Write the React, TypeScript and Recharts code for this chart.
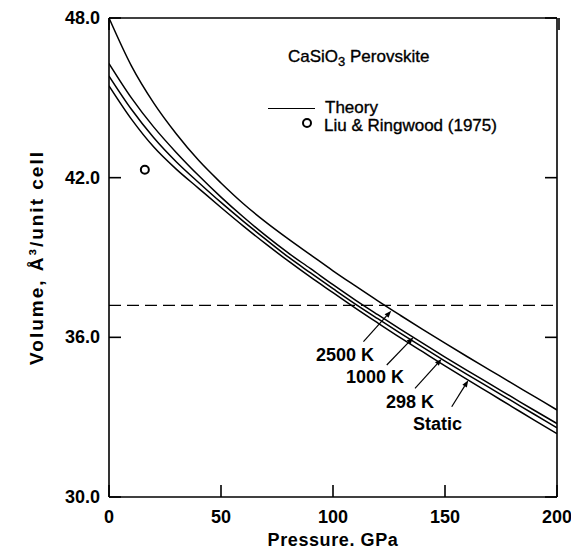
import React from 'react';
import {
  ComposedChart,
  Line,
  Scatter,
  XAxis,
  YAxis,
  ReferenceLine,
  ReferenceDot,
  Legend,
} from 'recharts';

const FONT = '"Liberation Sans", Arial, Helvetica, sans-serif';

// pressure grid, GPa
const pressure = [0, 10, 20, 30, 40, 50, 60, 70, 80, 90, 100, 110, 120, 130, 140, 150, 160, 170, 180, 190, 200];

// volumes, A^3 per unit cell
const vol2500 = [48.0, 46.2, 44.8, 43.65, 42.65, 41.8, 41.02, 40.33, 39.7, 39.1, 38.5, 37.93, 37.37, 36.83, 36.3, 35.78, 35.27, 34.77, 34.27, 33.77, 33.27];
const vol1000 = [46.29, 45.0, 43.9, 42.95, 42.08, 41.27, 40.52, 39.82, 39.17, 38.58, 37.98, 37.4, 36.85, 36.31, 35.78, 35.26, 34.75, 34.25, 33.75, 33.25, 32.76];
const vol298 = [45.82, 44.57, 43.5, 42.6, 41.82, 41.07, 40.36, 39.68, 39.02, 38.42, 37.83, 37.25, 36.7, 36.16, 35.63, 35.11, 34.6, 34.1, 33.6, 33.1, 32.6];
const volStatic = [45.45, 44.2, 43.15, 42.32, 41.6, 40.88, 40.18, 39.51, 38.87, 38.26, 37.68, 37.1, 36.54, 35.99, 35.46, 34.93, 34.41, 33.9, 33.39, 32.88, 32.38];

// Liu & Ringwood (1975) point
const liuRingwood = [{ p: 16, v: 42.3 }];

const xTicks = [0, 50, 100, 150, 200];
const yTicks = [30, 36, 42, 48];
const dashedVolume = 37.2;

// curve labels with pointer arrows (data coordinates)
const arrowNotes = [
  { label: '2500 K', textP: 105.4, textV: 35.34, fromP: 113.6, fromV: 35.84, tipP: 126, tipV: 37.0 },
  { label: '1000 K', textP: 118.75, textV: 34.52, fromP: 124, fromV: 34.96, tipP: 135.9, tipV: 36.0 },
  { label: '298 K', textP: 134.4, textV: 33.58, fromP: 136.6, fromV: 34.08, tipP: 148.5, tipV: 35.19 },
  { label: 'Static', textP: 146.7, textV: 32.77, fromP: 153, fromV: 33.39, tipP: 160.4, tipV: 34.39 },
];

const curveData = pressure.map((p, i) => ({
  p,
  t2500: vol2500[i],
  t1000: vol1000[i],
  t298: vol298[i],
  tStatic: volStatic[i],
}));

const TICK = 12;
const labelFont = { fill: '#000', fontSize: 18, fontWeight: 'bold' as const, fontFamily: FONT };
const axisStroke = { stroke: '#000', strokeWidth: 1.6 };

// inward tick marks, drawn by the tick renderers themselves
const BottomTick = (props: any) => {
  const { x, y, payload } = props;
  return (
    <g>
      <line x1={x} x2={x} y1={y} y2={y - TICK} stroke="#000" strokeWidth={1.6} />
      <text x={x} y={y + 26} textAnchor="middle" {...labelFont}>{payload.value}</text>
    </g>
  );
};

const LeftTick = (props: any) => {
  const { x, y, payload } = props;
  return (
    <g>
      <line x1={x} x2={x + TICK} y1={y} y2={y} stroke="#000" strokeWidth={1.6} />
      <text x={x - 9} y={y + 6} textAnchor="end" {...labelFont}>{Number(payload.value).toFixed(1)}</text>
    </g>
  );
};

const TopTick = (props: any) => (
  <line x1={props.x} x2={props.x} y1={props.y} y2={props.y + TICK} stroke="#000" strokeWidth={1.6} />
);

const RightTick = (props: any) => (
  <line x1={props.x} x2={props.x - TICK} y1={props.y} y2={props.y} stroke="#000" strokeWidth={1.6} />
);

const renderArrow = (props: any) => {
  const { x1, y1, x2, y2 } = props;
  const ang = Math.atan2(y2 - y1, x2 - x1);
  const len = 7;
  const half = 2.6;
  const bx = x2 - len * Math.cos(ang);
  const by = y2 - len * Math.sin(ang);
  const px = -Math.sin(ang) * half;
  const py = Math.cos(ang) * half;
  return (
    <g>
      <line x1={x1} y1={y1} x2={bx} y2={by} stroke="#000" strokeWidth={1.2} />
      <polygon points={`${x2},${y2} ${bx + px},${by + py} ${bx - px},${by - py}`} fill="#000" />
    </g>
  );
};

const renderOpenCircle = (props: any) => (
  <circle cx={props.cx} cy={props.cy} r={4} fill="#fff" stroke="#000" strokeWidth={2} />
);

const renderLegend = () => (
  <div
    style={{
      position: 'relative',
      width: 571,
      height: 140,
      fontFamily: FONT,
      fontSize: 17,
      lineHeight: '17px',
      color: '#000',
      whiteSpace: 'nowrap',
      WebkitTextStroke: '0.35px #000',
    }}
  >
    <div style={{ position: 'absolute', left: 288, top: 48 }}>
      CaSiO<span style={{ fontSize: 13, position: 'relative', top: 4 }}>3</span> Perovskite
    </div>
    <div style={{ position: 'absolute', left: 268, top: 108, width: 47, borderTop: '1.5px solid #000' }} />
    <div style={{ position: 'absolute', left: 325, top: 99 }}>Theory</div>
    <svg style={{ position: 'absolute', left: 301, top: 117 }} width={12} height={12}>
      <circle cx={6} cy={6} r={4} fill="none" stroke="#000" strokeWidth={2} />
    </svg>
    <div style={{ position: 'absolute', left: 324, top: 117 }}>Liu &amp; Ringwood (1975)</div>
  </div>
);

export default function App() {
  return (
    <div style={{ position: 'absolute', left: 0, top: 0, width: 571, height: 549, background: '#fff' }}>
      <ComposedChart
        width={571}
        height={549}
        data={curveData}
        margin={{ top: 17, right: 13, bottom: 0, left: 0 }}
      >
        <XAxis
          dataKey="p"
          type="number"
          domain={[0, 200]}
          ticks={xTicks}
          allowDataOverflow
          height={52}
          tickSize={0}
          tickMargin={0}
          tick={BottomTick}
          tickLine={false}
          axisLine={axisStroke}
          label={{
            value: 'Pressure. GPa',
            position: 'insideBottom',
            offset: 3,
            fill: '#000',
            fontSize: 18,
            fontWeight: 'bold',
            fontFamily: FONT,
            letterSpacing: 0.6,
          }}
        />
        <XAxis
          xAxisId="top"
          orientation="top"
          type="number"
          domain={[0, 200]}
          ticks={xTicks}
          allowDataOverflow
          height={1}
          tickSize={0}
          tickMargin={0}
          tick={TopTick}
          tickLine={false}
          axisLine={axisStroke}
        />
        <YAxis
          type="number"
          domain={[30, 48]}
          ticks={yTicks}
          allowDataOverflow
          width={109}
          tickSize={0}
          tickMargin={0}
          tick={LeftTick}
          tickLine={false}
          axisLine={axisStroke}
          label={{
            value: 'Volume, Å³/unit cell',
            angle: -90,
            position: 'insideLeft',
            offset: 36,
            fill: '#000',
            fontSize: 19,
            fontWeight: 'bold',
            fontFamily: FONT,
            letterSpacing: 2,
            style: { textAnchor: 'middle' },
          }}
        />
        <YAxis
          yAxisId="right"
          orientation="right"
          type="number"
          domain={[30, 48]}
          ticks={yTicks}
          allowDataOverflow
          width={1}
          tickSize={0}
          tickMargin={0}
          tick={RightTick}
          tickLine={false}
          axisLine={axisStroke}
        />

        <ReferenceLine y={dashedVolume} stroke="#000" strokeWidth={1.4} strokeDasharray="12 6" />

        <Line type="monotone" dataKey="t2500" stroke="#000" strokeWidth={1.5} dot={false} activeDot={false} isAnimationActive={false} />
        <Line type="monotone" dataKey="t1000" stroke="#000" strokeWidth={1.5} dot={false} activeDot={false} isAnimationActive={false} />
        <Line type="monotone" dataKey="t298" stroke="#000" strokeWidth={1.5} dot={false} activeDot={false} isAnimationActive={false} />
        <Line type="monotone" dataKey="tStatic" stroke="#000" strokeWidth={1.5} dot={false} activeDot={false} isAnimationActive={false} />

        <Scatter data={liuRingwood} dataKey="v" shape={renderOpenCircle} isAnimationActive={false} />

        {arrowNotes.map((n) => (
          <ReferenceLine
            key={`arrow-${n.label}`}
            segment={[{ x: n.fromP, y: n.fromV }, { x: n.tipP, y: n.tipV }]}
            shape={renderArrow}
          />
        ))}
        {arrowNotes.map((n) => (
          <ReferenceDot
            key={`text-${n.label}`}
            x={n.textP}
            y={n.textV}
            r={0}
            fill="none"
            stroke="none"
            label={{
              value: n.label,
              position: 'center',
              fill: '#000',
              fontSize: 18,
              fontWeight: 'bold',
              fontFamily: FONT,
            }}
          />
        ))}

        <Legend
          verticalAlign="middle"
          align="center"
          layout="vertical"
          content={renderLegend}
          wrapperStyle={{ left: 0, top: 0, width: 571, height: 140 }}
        />
      </ComposedChart>
    </div>
  );
}
